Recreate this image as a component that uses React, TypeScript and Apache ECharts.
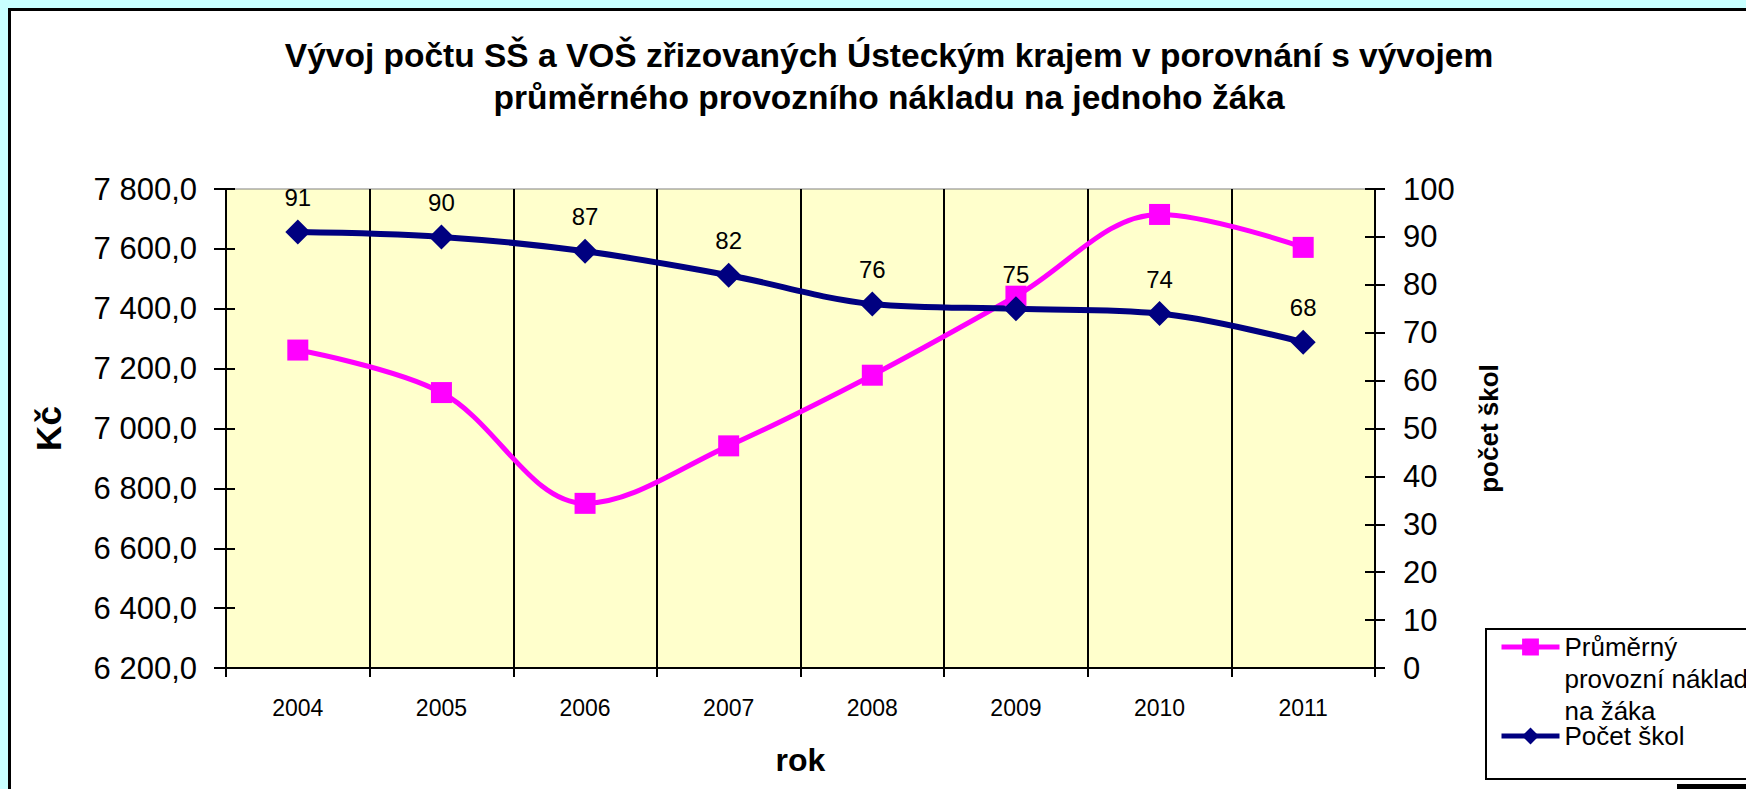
import React, { useEffect, useRef } from "react";
import * as echarts from "echarts";

const years = ["2004", "2005", "2006", "2007", "2008", "2009", "2010", "2011"];
const costPerPupil = [7262, 7120, 6750, 6942, 7178, 7442, 7715, 7605];
const schoolCount = [91, 90, 87, 82, 76, 75, 74, 68];
const costName = "Průměrný provozní náklad na žáka";
const countName = "Počet škol";
const titleLines = [
  "Vývoj počtu SŠ a VOŠ zřizovaných Ústeckým krajem v porovnání s vývojem",
  "průměrného provozního nákladu na jednoho žáka",
];

const FONT = '"Liberation Sans", Arial, sans-serif';

function fmtKc(v: number): string {
  const s = Math.round(v).toString();
  const t = s.length > 3 ? s.slice(0, -3) + " " + s.slice(-3) : s;
  return t + ",0";
}

export default function App() {
  const ref = useRef<HTMLDivElement>(null);

  useEffect(() => {
    if (!ref.current) return;
    const chart = echarts.init(ref.current, undefined, { renderer: "svg" });
    const black = "#000000";
    chart.setOption({
      animation: false,
      textStyle: { fontFamily: FONT, color: black },
      title: {
        text: titleLines.join("\n"),
        left: 884,
        top: 29,
        textAlign: "center",
        textStyle: {
          fontFamily: FONT,
          fontSize: 33.5,
          fontWeight: "bold",
          lineHeight: 42,
          color: black,
        },
      },
      grid: {
        left: 226,
        right: 371,
        top: 189,
        bottom: 121,
        show: true,
        backgroundColor: "#FFFFCC",
        borderColor: "#808080",
        borderWidth: 1,
      },
      legend: [
        {
          data: [costName],
          orient: "vertical",
          left: 1499,
          top: 567,
          padding: 0,
          itemWidth: 58,
          itemHeight: 21,
          lineStyle: { width: 5 },
          formatter: () => "\n\nPrůměrný\nprovozní náklad\nna žáka",
          textStyle: {
            fontFamily: FONT,
            fontSize: 26,
            lineHeight: 32,
            color: black,
          },
        },
        {
          data: [countName],
          orient: "vertical",
          left: 1499,
          top: 720,
          padding: 0,
          itemWidth: 58,
          itemHeight: 21,
          lineStyle: { width: 5 },
          textStyle: {
            fontFamily: FONT,
            fontSize: 26,
            lineHeight: 32,
            color: black,
          },
        },
      ],
      graphic: [
        {
          type: "rect",
          shape: { x: 1486, y: 629, width: 400, height: 150 },
          style: { fill: "#ffffff", stroke: black, lineWidth: 2 },
        },
        {
          type: "rect",
          shape: { x: 1677, y: 784, width: 200, height: 10 },
          style: { fill: black },
        },
      ],
      xAxis: {
        type: "category",
        data: years,
        boundaryGap: true,
        name: "rok",
        nameLocation: "middle",
        nameGap: 76,
        nameTextStyle: { fontFamily: FONT, fontSize: 32, fontWeight: "bold", color: black },
        axisLine: { show: true, lineStyle: { color: black, width: 2 } },
        axisTick: { show: true, length: 9, lineStyle: { color: black, width: 2 } },
        axisLabel: { fontFamily: FONT, fontSize: 23, color: black, margin: 28 },
        splitLine: { show: true, lineStyle: { color: black, width: 2 } },
      },
      yAxis: [
        {
          type: "value",
          position: "left",
          min: 6200,
          max: 7800,
          interval: 200,
          name: "Kč",
          nameLocation: "middle",
          nameRotate: 90,
          nameGap: 160,
          nameTextStyle: { fontFamily: FONT, fontSize: 35, fontWeight: "bold", color: black },
          axisLine: { show: true, lineStyle: { color: black, width: 2 } },
          axisTick: { show: true, length: 12, lineStyle: { color: black, width: 2 } },
          axisLabel: {
            fontFamily: FONT,
            fontSize: 31,
            color: black,
            margin: 29,
            formatter: (v: number) => fmtKc(v),
          },
          splitLine: { show: false },
        },
        {
          type: "value",
          position: "right",
          min: 0,
          max: 100,
          interval: 10,
          name: "počet škol",
          nameLocation: "middle",
          nameRotate: 90,
          nameGap: 101,
          nameTextStyle: { fontFamily: FONT, fontSize: 26, fontWeight: "bold", color: black },
          axisLine: { show: true, lineStyle: { color: black, width: 2 } },
          axisTick: { show: true, length: 10, lineStyle: { color: black, width: 2 } },
          axisLabel: { fontFamily: FONT, fontSize: 31, color: black, margin: 28 },
          splitLine: { show: false },
        },
        {
          type: "value",
          position: "left",
          min: 6200,
          max: 7800,
          interval: 200,
          axisLine: { show: false },
          axisTick: { show: true, inside: true, length: 9, lineStyle: { color: black, width: 2 } },
          axisLabel: { show: false },
          splitLine: { show: false },
        },
        {
          type: "value",
          position: "right",
          min: 0,
          max: 100,
          interval: 10,
          axisLine: { show: false },
          axisTick: { show: true, inside: true, length: 10, lineStyle: { color: black, width: 2 } },
          axisLabel: { show: false },
          splitLine: { show: false },
        },
      ],
      series: [
        {
          name: costName,
          type: "line",
          yAxisIndex: 0,
          data: costPerPupil,
          smooth: 0.35,
          symbol: "rect",
          symbolSize: 21,
          lineStyle: { color: "#FF00FF", width: 5 },
          itemStyle: { color: "#FF00FF" },
        },
        {
          name: countName,
          type: "line",
          yAxisIndex: 1,
          data: schoolCount,
          smooth: 0.35,
          symbol: "diamond",
          symbolSize: 25,
          lineStyle: { color: "#000080", width: 6 },
          itemStyle: { color: "#000080" },
          label: {
            show: true,
            position: "top",
            distance: 10,
            fontFamily: FONT,
            fontSize: 24,
            color: black,
          },
        },
      ],
    });
    return () => chart.dispose();
  }, []);

  return (
    <div
      style={{
        position: "fixed",
        left: 0,
        top: 0,
        width: 1746,
        height: 789,
        background: "#C8FFFF",
        overflow: "hidden",
      }}
    >
      <div
        style={{
          position: "absolute",
          left: 8,
          top: 8,
          width: 1900,
          height: 1000,
          background: "#ffffff",
          border: "3px solid #000",
          boxSizing: "border-box",
        }}
      />
      <div ref={ref} style={{ position: "absolute", left: 0, top: 0, width: 1746, height: 789 }} />
    </div>
  );
}
